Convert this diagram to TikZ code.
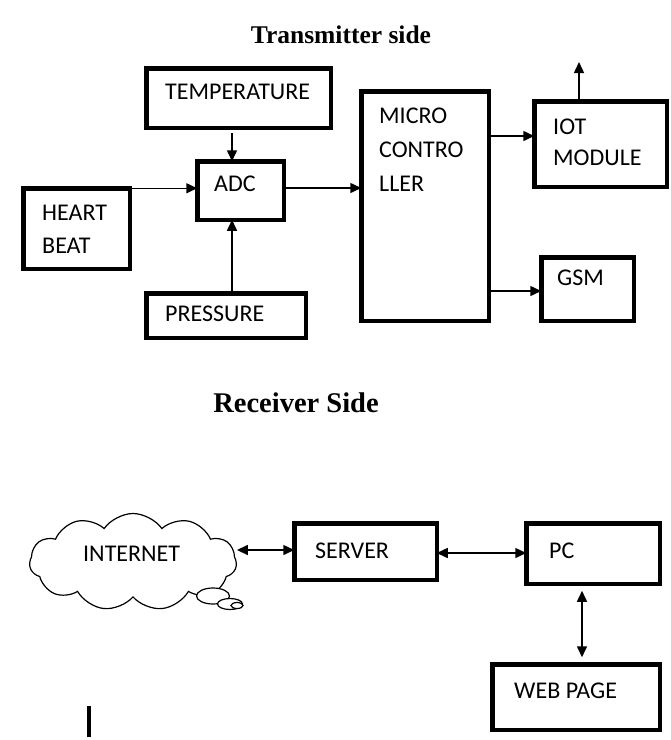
\documentclass[tikz,border=0pt]{standalone}
\usepackage{fontspec}
\setmainfont{Carlito}
\newfontfamily\headfont{Liberation Serif}
\usetikzlibrary{arrows.meta, shapes.symbols}

\tikzset{
    blk/.style={draw, line width=4.5pt, outer sep=0pt, inner sep=0pt},
    lbl/.style={anchor=north west, inner sep=0pt, align=left,
                font=\fontsize{24}{33}\selectfont},
    arr/.style={line width=1.5pt, -{Triangle[length=11pt, width=10pt]}},
    darr/.style={line width=1.5pt,
                 {Triangle[length=11pt, width=10pt]}-{Triangle[length=11pt, width=10pt]}},
    ttl/.style={inner sep=0pt, font=\headfont\bfseries\fontsize{#1}{#1}\selectfont}
}

\begin{document}
\begin{tikzpicture}[x=1pt, y=-1pt]
\useasboundingbox (0,0) rectangle (671,740);

% -------- Transmitter side ----------------------------------
\node[ttl=25.5] (txtitle) at (341,35) {Transmitter side};

\node[blk, minimum width=184.5pt, minimum height=59.5pt] (temp)  at (238.5,98)  {};
\node[blk, minimum width=86.5pt,  minimum height=58.5pt] (adc)   at (240.5,190.5) {};
\node[blk, minimum width=106.5pt, minimum height=80.5pt] (heart) at (76.5,228.5) {};
\node[blk, minimum width=159.5pt, minimum height=44.5pt] (press) at (226,315.5) {};
\node[blk, minimum width=127.5pt, minimum height=229.5pt] (micro) at (425,206) {};
\node[blk, minimum width=132.5pt, minimum height=85.5pt] (iot)   at (600.5,144) {};
\node[blk, minimum width=92.5pt,  minimum height=63.5pt] (gsm)   at (587.5,289) {};

% box texts
\node[lbl] (temptxt)  at (165,83.5)  {TEMPERATURE};
\node[lbl] (adctxt)   at (214,175.5) {ADC};
\node[lbl] (hearttxt) at (42,204.5)  {HEART\\BEAT};
\node[lbl] (presstxt) at (165,305.5) {PRESSURE};
\node[lbl, font=\fontsize{24}{34}\selectfont] (microtxt) at (379,107.5) {MICRO\\CONTRO\\LLER};
\node[lbl, font=\fontsize{24}{31}\selectfont] (iottxt) at (553,118.5) {IOT\\MODULE};
\node[lbl] (gsmtxt)   at (557,269.5) {GSM};

% connections
\coordinate (iotout) at (579,62);
\draw[arr, shorten <=5pt] ([xshift=-8.5pt]adc.north |- temp.south) -- ([xshift=-8.5pt]adc.north);
\draw[arr] (heart.north east) -- (heart.north east -| adc.west);
\draw[arr] ([yshift=2.5pt]adc.east) -- ([yshift=2.5pt]adc.east -| micro.west);
\draw[arr] ([xshift=-8.5pt]adc.south |- press.north) -- ([xshift=-8.5pt]adc.south);
\draw[arr] ([yshift=8pt]iot.west -| micro.east) -- ([yshift=8pt]iot.west);
\draw[arr] ([yshift=-2pt]gsm.west -| micro.east) -- ([yshift=-2pt]gsm.west);
\draw[arr] (iotout |- iot.north) -- (iotout);

% -------- Receiver side -------------------------------------
\node[ttl=28.5] (rxtitle) at (296,403) {Receiver Side};

\node[draw, cloud, cloud puffs=11, cloud puff arc=110, line width=1.2pt,
      minimum width=207pt, minimum height=97pt, inner sep=0pt] (inet) at (133,562) {};
\draw[line width=1.2pt, fill=white] (213,596) ellipse (16.5 and 8);
\draw[line width=1.2pt, fill=white] (230,604) ellipse (12.5 and 5.5);
\draw[line width=1.2pt, fill=white] (237,605.5) ellipse (6 and 3);

\node[blk, minimum width=142.5pt, minimum height=56.5pt] (server) at (365.5,551.5) {};
\node[blk, minimum width=133.5pt, minimum height=60.5pt] (pc)     at (593,553.5)  {};
\node[blk, minimum width=167.5pt, minimum height=65.5pt] (web)    at (576,697)    {};

\node[lbl] (inettxt)   at (83,545.5)  {INTERNET};
\node[lbl] (servertxt) at (315,542.5) {SERVER};
\node[lbl] (pctxt)     at (549,542.5) {PC};
\node[lbl] (webtxt)    at (514,682.5) {WEB PAGE};

\draw[darr] ([yshift=1.5pt]server.west -| inet.east) -- ([yshift=1.5pt]server.west);
\draw[darr] ([yshift=-1.5pt]server.east) -- ([yshift=-1.5pt]server.east -| pc.west);
\draw[darr, shorten <=7pt, shorten >=7pt] ([xshift=-11pt]pc.south) -- ([xshift=-11pt]pc.south |- web.north);

% stray bar
\draw[line width=3.5pt] (89,706) -- (89,737);

\end{tikzpicture}
\end{document}
